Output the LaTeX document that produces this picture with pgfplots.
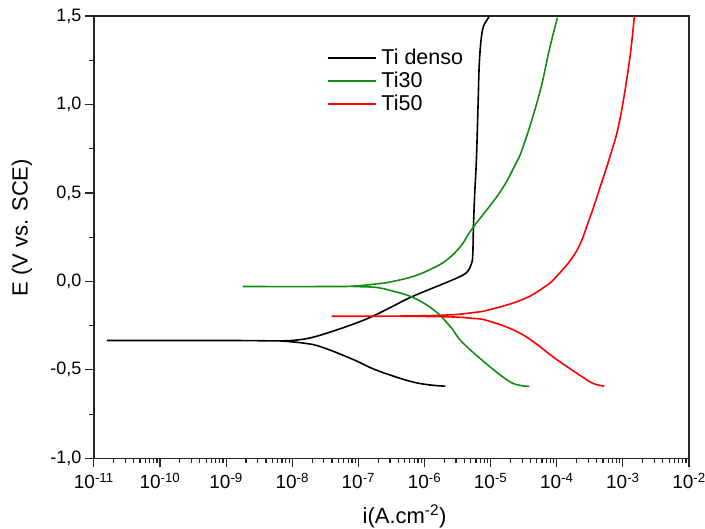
\documentclass[border=0pt]{standalone}
\usepackage{fontspec}
\setmainfont{Liberation Sans}
\usepackage{pgfplots}
\pgfplotsset{compat=1.18}
\definecolor{tigreen}{RGB}{20,140,20}
\definecolor{tired}{RGB}{255,0,0}
\begin{document}
\begin{tikzpicture}
\begin{axis}[
  scale only axis, width=596pt, height=443pt,
  xmode=log, xmin=1e-11, xmax=1e-2, ymin=-1, ymax=1.5,
  log basis x=10,
  /pgf/number format/assume math mode=true,
  log number format basis/.code 2 args={10\textsuperscript{\pgfmathprintnumber{#2}}},
  ytick={-1,-0.5,0,0.5,1,1.5},
  yticklabels={{-1,0},{-0,5},{0,0},{0,5},{1,0},{1,5}},
  minor ytick={-0.75,-0.25,0.25,0.75,1.25},
  xtick pos=bottom, ytick pos=left, tick align=outside,
  major tick length=9pt, minor tick length=5pt,
  axis line style={line width=1.4pt, black!85},
  every tick/.style={black!85, line width=1.2pt},
  xticklabel style={font=\fontsize{19}{19}\selectfont, yshift=-2pt},
  yticklabel style={font=\fontsize{18}{18}\selectfont},
  every axis x label/.style={at={(axis description cs:0.522,-0.131)}, anchor=center},
  every axis y label/.style={at={(axis description cs:-0.121,0.521)}, rotate=90, anchor=center},
  xlabel={i(A.cm\textsuperscript{-2})},
  ylabel={E (V vs. SCE)},
  label style={font=\fontsize{22}{22}\selectfont},
  legend style={draw=none, fill=none, at={(rel axis cs:0.391,0.93)}, anchor=north west,
    font=\fontsize{21.5}{26}\selectfont, row sep=2pt, column sep=3pt, inner sep=0pt},
  legend cell align=left,
  legend image code/.code={\draw[#1, line width=1.8pt] (0pt,0pt) -- (48pt,0pt);},
  every axis plot/.append style={line width=1.6pt},
]
% Ti denso
\addplot[black, smooth, tension=0.6] coordinates {
(1.57e-11,-0.334) (1.13e-9,-0.334) (6.46e-9,-0.336) (1.26e-8,-0.33) (2.34e-8,-0.31)
(6.64e-8,-0.255) (1.48e-7,-0.205) (2.96e-7,-0.15) (6.59e-7,-0.085) (2.15e-6,-0.006)
(3.55e-6,0.03) (4.47e-6,0.055) (5.13e-6,0.10) (5.37e-6,0.15) (5.50e-6,0.31)
(5.75e-6,0.5) (6.10e-6,0.69) (6.46e-6,1.0) (6.78e-6,1.25) (7.52e-6,1.42)
(8.91e-6,1.48) (9.59e-6,1.5)};
\addlegendentry{Ti denso}
% Ti30
\addplot[tigreen, smooth, tension=0.7] coordinates {
(1.78e-9,-0.029) (3.16e-8,-0.029) (8.17e-8,-0.027) (2.09e-7,-0.012) (2.96e-7,-0.004)
(6.59e-7,0.027) (1.26e-6,0.07) (2.15e-6,0.12) (3.55e-6,0.20) (5.31e-6,0.30)
(1.36e-5,0.50) (2.29e-5,0.65) (3.16e-5,0.77) (5.46e-5,1.06) (7.73e-5,1.31) (1.02e-4,1.49)};
\addlegendentry{Ti30}
% Ti50
\addplot[tired, smooth, tension=0.7] coordinates {
(3.94e-8,-0.197) (4.19e-7,-0.196) (2.15e-6,-0.19) (5.01e-6,-0.178) (9.59e-6,-0.16)
(3.02e-5,-0.103) (6.31e-5,-0.035) (9.86e-5,0.027) (1.98e-4,0.17) (3.10e-4,0.35)
(4.41e-4,0.52) (6.31e-4,0.70) (8.83e-4,0.90) (1.25e-3,1.24) (1.49e-3,1.5)};
\addlegendentry{Ti50}
% cathodic branches
\addplot[black, smooth, tension=0.7, forget plot] coordinates {
(6.46e-9,-0.336) (1.58e-8,-0.35) (2.88e-8,-0.373) (8.17e-8,-0.44) (1.58e-7,-0.49)
(2.96e-7,-0.528) (6.59e-7,-0.568) (1.26e-6,-0.586) (2.07e-6,-0.592)};
\addplot[tigreen, smooth, tension=0.7, forget plot] coordinates {
(8.17e-8,-0.029) (1.58e-7,-0.032) (2.09e-7,-0.037) (2.96e-7,-0.05) (6.59e-7,-0.09)
(1.42e-6,-0.165) (2.51e-6,-0.26) (3.75e-6,-0.345) (9.59e-6,-0.48) (1.92e-5,-0.565)
(2.82e-5,-0.588) (3.85e-5,-0.593)};
\addplot[tired, smooth, tension=0.7, forget plot] coordinates {
(4.19e-7,-0.197) (2.15e-6,-0.20) (5.01e-6,-0.208) (9.59e-6,-0.225) (3.02e-5,-0.30)
(9.86e-5,-0.44) (2.44e-4,-0.54) (3.55e-4,-0.577) (5.24e-4,-0.592)};
\end{axis}
\pgfresetboundingbox
\path ([shift={(-94pt,-70pt)}]current axis.south west) rectangle ([shift={(16pt,16pt)}]current axis.north east);
\end{tikzpicture}
\end{document}
